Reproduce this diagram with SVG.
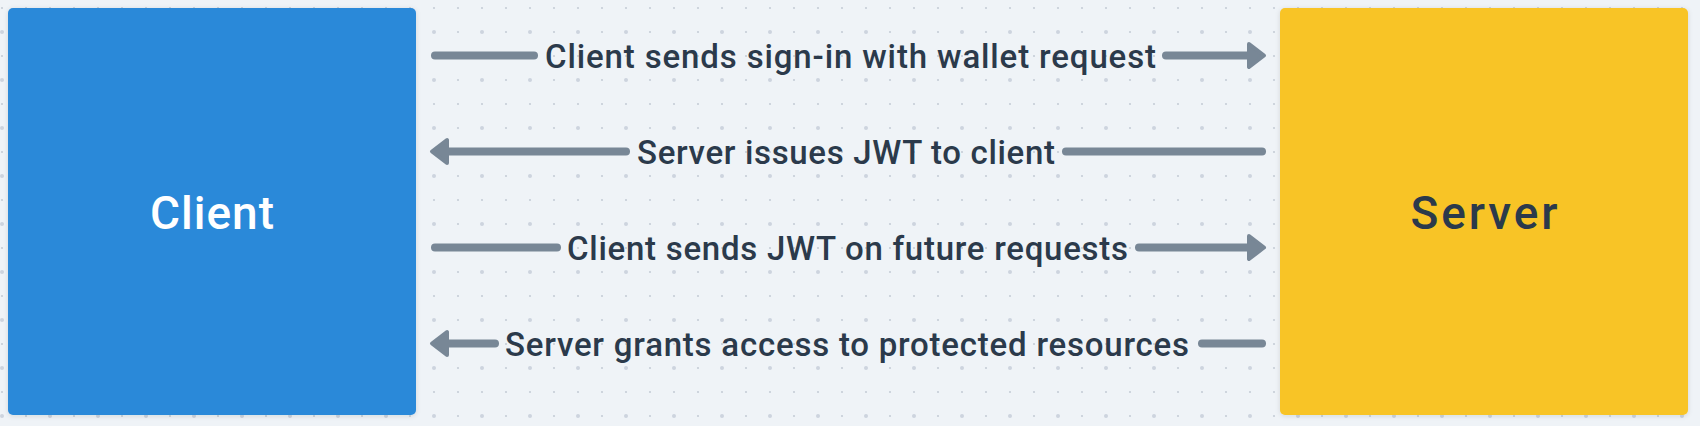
<svg xmlns="http://www.w3.org/2000/svg" width="1700" height="426" viewBox="0 0 1700 426">
  <style>
    .conn { fill: none; stroke: #788796; stroke-width: 8; stroke-linecap: round; }
    .lbl { font-family: Roboto, "Liberation Sans", Arial, sans-serif; font-weight: 500; font-size: 33px; fill: #2b3a4b; }
    .title { font-family: Roboto, "Liberation Sans", Arial, sans-serif; font-weight: 500; font-size: 46px; text-anchor: middle; }
  </style>
  <defs>
    <pattern id="dots" x="-10" y="0" width="48" height="48" patternUnits="userSpaceOnUse">
      <circle cx="12" cy="32" r="2" fill="#cdd4de"/>
      <circle cx="36" cy="32" r="1.1" fill="#c6cdd7"/>
      <circle cx="12" cy="8" r="1.1" fill="#c6cdd7"/>
      <circle cx="36" cy="8" r="1.1" fill="#c6cdd7"/>
    </pattern>
    <marker id="arrow" markerUnits="userSpaceOnUse" viewBox="-4 -16 28 32" markerWidth="28" markerHeight="32" refX="0" refY="0" orient="auto">
      <path d="M0,-11.5 L15,0 L0,11.5 Z" fill="#788796" stroke="#788796" stroke-width="4" stroke-linejoin="round"/>
    </marker>
    <filter id="shadow" x="-5%" y="-5%" width="110%" height="110%">
      <feDropShadow dx="0" dy="1" stdDeviation="2.5" flood-color="#1a2a3a" flood-opacity="0.12"/>
    </filter>
  </defs>

  <rect x="0" y="0" width="1700" height="426" fill="#eff3f7"/>
  <rect x="0" y="0" width="1700" height="426" fill="url(#dots)"/>

  <g id="client">
    <rect x="8" y="8" width="408" height="407" rx="5" fill="#2c89d9" filter="url(#shadow)"/>
    <text class="title" x="212" y="228.5" fill="#ffffff" textLength="124" lengthAdjust="spacing">Client</text>
  </g>

  <g id="server">
    <rect x="1280" y="8" width="408" height="407" rx="5" fill="#f8c426" filter="url(#shadow)"/>
    <text class="title" x="1484" y="228.5" fill="#2b3a4b" textLength="147" lengthAdjust="spacing">Server</text>
  </g>

  <g id="connectors">
    <g id="c1">
      <path class="conn" d="M435,55.5 H534"/>
      <path class="conn" d="M1166,55.5 H1249" marker-end="url(#arrow)"/>
      <text class="lbl" x="545" y="67.5" textLength="611" lengthAdjust="spacing">Client sends sign-in with wallet request</text>
    </g>
    <g id="c2">
      <path class="conn" d="M1262,151.5 H1066"/>
      <path class="conn" d="M626,151.5 H447" marker-end="url(#arrow)"/>
      <text class="lbl" x="637" y="163.5" textLength="418" lengthAdjust="spacing">Server issues JWT to client</text>
    </g>
    <g id="c3">
      <path class="conn" d="M435,247.5 H557"/>
      <path class="conn" d="M1139,247.5 H1249" marker-end="url(#arrow)"/>
      <text class="lbl" x="567" y="259.5" textLength="561" lengthAdjust="spacing">Client sends JWT on future requests</text>
    </g>
    <g id="c4">
      <path class="conn" d="M1262,343.5 H1202"/>
      <path class="conn" d="M495,343.5 H447" marker-end="url(#arrow)"/>
      <text class="lbl" x="505" y="355.5" textLength="684" lengthAdjust="spacing">Server grants access to protected resources</text>
    </g>
  </g>
</svg>
